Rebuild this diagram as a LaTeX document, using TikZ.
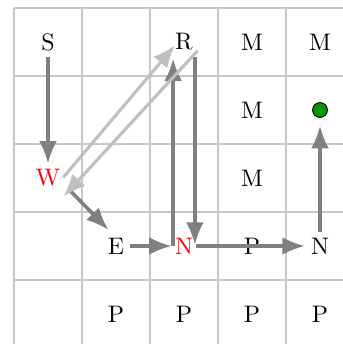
\documentclass[tikz,border=0pt]{standalone}
\usepackage{xcolor}
\usetikzlibrary{arrows.meta, calc}

\begin{document}
\begin{tikzpicture}[line join=round,
		gridline/.style={draw=black!22, line width=0.5pt},
		move/.style={draw=gray, line width=1.5pt, -{Latex[length=9.5pt,width=7.5pt]}},
		backmove/.style={draw=black!25, line width=1.3pt, -{Latex[length=9.5pt,width=7.5pt]}},
		goal/.style={circle, draw=black, line width=0.4pt, fill=green!60!black, minimum size=6.2pt, inner sep=0pt}]
				\useasboundingbox (-0.206,0.059) rectangle (4.824,5.118);
				\draw[gridline] (0,0) grid (5,5);
				
				\node (S) at (0.5,4.5) {S};
				\node (R) at (2.5,4.5) {R};
				\node (M1) at (3.5,4.5) {M};
				\node (M2) at (4.5,4.5) {M};
				\node (M3) at (3.5,3.5) {M};
				\node[goal] (G) at (4.5,3.5) {};
				\node[red] (W) at (0.5,2.5) {W};
				\node (M4) at (3.5,2.5) {M};
				\node (E) at (1.5,1.5) {E};
				\node[red] (N1) at (2.5,1.5) {N};
				\node (P1) at (3.5,1.5) {P};
				\node (N2) at (4.5,1.5) {N};
				\node (P2) at (1.5,0.5) {P};
				\node (P3) at (2.5,0.5) {P};
				\node (P4) at (3.5,0.5) {P};
				\node (P5) at (4.5,0.5) {P};
				
				\draw[move] ($(S)+(0,-0.215)$) -- ($(W)+(0,0.21)$);
				\draw[move] ($(W)+(0.33,-0.19)$) -- ($(E)+(-0.11,0.235)$);
				\draw[move] ($(E)+(0.2,0)$) -- ($(N1)+(-0.18,0)$);
				\draw[move] ($(N1)+(-0.16,0)$) -- ($(R)+(-0.16,-0.24)$);
				\draw[move] ($(R)+(0.16,-0.215)$) -- ($(N1)+(0.16,0.015)$);
				\draw[move] ($(N1)+(0.18,0)$) -- ($(N2)+(-0.22,0)$);
				\draw[move] ($(N2)+(0,0.21)$) -- ($(G)+(0,-0.23)$);
				
				\draw[backmove] ($(W)+(0.225,0.01)$) -- ($(R)+(-0.13,-0.045)$);
				\draw[backmove] ($(R)+(0.2,-0.128)$) -- ($(W)+(0.225,-0.275)$);
			\end{tikzpicture}
\end{document}
